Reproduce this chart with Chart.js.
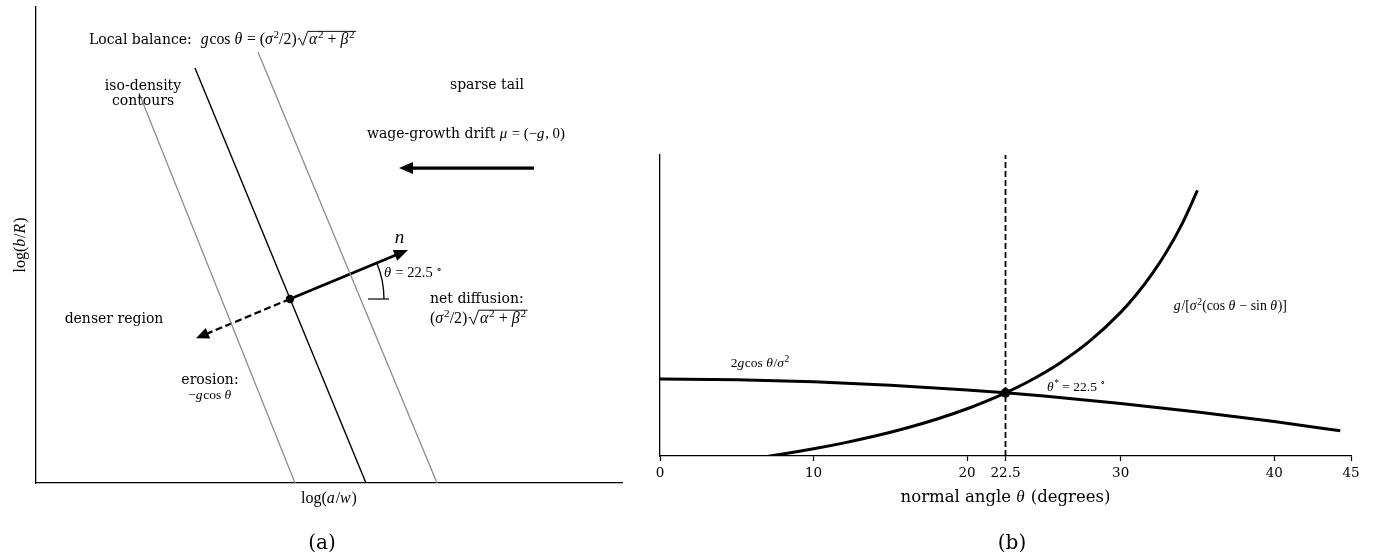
<!DOCTYPE html>
<html>
<head>
<meta charset="utf-8">
<title>Iso-density contours and the normal-angle balance</title>
<script src="https://cdn.jsdelivr.net/npm/chart.js@4.4.1/dist/chart.umd.min.js"></script>
<style>
  html, body { margin: 0; padding: 0; background: #fff; }
  #wrap { position: relative; width: 1374px; height: 558px; overflow: hidden; background: #fff; }
  canvas { position: absolute; top: 0; }
  #panelA { left: 0; width: 640px; height: 558px; }
  #panelB { left: 640px; width: 734px; height: 558px; }
</style>
</head>
<body>
<div id="wrap">
  <canvas id="panelA" width="640" height="558"></canvas>
  <canvas id="panelB" width="734" height="558"></canvas>
</div>
<script>
// ---------- panel (a): schematic in (log(a/w), log(b/R)) units ----------
const contourLeft  = [[1.758, 6.655], [4.420, 0]];
const balanceLine  = [[2.713, 7.082], [5.631, 0]];
const contourRight = [[3.788, 7.355], [6.843, 0]];
const footPoint    = [[4.334, 3.140]];
const normalArrow  = [[4.334, 3.140], [6.348, 3.976]];
const erosionArrow = [[4.334, 3.140], [2.730, 2.470]];
const driftArrow   = [[8.498, 5.375], [6.195, 5.375]];
const angleBase    = [[5.666, 3.140], [6.024, 3.140]];
const normalAngleDeg = 22.5;

// ---------- panel (b): both sides of the balance vs. normal angle ----------
const thetaCos   = [0, 5, 10, 15, 20, 22.5, 25, 30, 35, 40, 44.3];
const cosCurve   = [2.000, 1.9924, 1.9696, 1.9319, 1.8794, 1.8478, 1.8126, 1.7321, 1.6383, 1.5321, 1.4314];
const thetaDrift = [0, 2, 4, 6, 8, 10, 12, 14, 16, 18, 20, 22, 22.5, 24, 26, 28, 30, 31, 32, 33, 34, 35];
const driftCurve = [1.000, 1.0368, 1.0778, 1.1236, 1.1750, 1.2328, 1.2983, 1.3729, 1.4585, 1.5575, 1.6732,
                    1.8097, 1.8478, 1.9731, 2.1719, 2.4185, 2.7320, 2.9229, 3.1434, 3.4010, 3.7058, 4.0722];
const thetaStar     = 22.5;
const crossingValue = 1.8478;
const xTickValues   = [0, 10, 20, 22.5, 30, 40, 45];

// ---------- rich text (text + math-style runs) ----------
const TEXT_FAMILY = '"DejaVu Serif"';
const MATH_FAMILY = '"Liberation Serif"';
function fontFor(style, size, msize) {
  if (style === 'T') return `${size}px ${TEXT_FAMILY}`;
  if (style === 'i') return `italic ${msize}px ${MATH_FAMILY}`;
  if (style === 's') return `${(msize * 0.7).toFixed(2)}px ${MATH_FAMILY}`;
  return `${msize}px ${MATH_FAMILY}`;
}
function richWidth(ctx, segs, size, msize) {
  let w = 0;
  for (const seg of segs) {
    if (seg.sqrt) { w += msize * 0.78 + richWidth(ctx, seg.sqrt, size, msize) + msize * 0.1; continue; }
    ctx.font = fontFor(seg[1], size, msize);
    w += ctx.measureText(seg[0]).width + (seg[1] === 'i' ? msize * 0.05 : 0);
  }
  return w;
}
function richDraw(ctx, segs, size, msize, x, y) {
  let cx = x;
  for (const seg of segs) {
    if (seg.sqrt) {
      const inner = richWidth(ctx, seg.sqrt, size, msize);
      const rw = msize * 0.78;
      const top = y - msize * 0.82;
      ctx.save();
      ctx.lineWidth = Math.max(0.9, msize * 0.06);
      ctx.beginPath();
      ctx.moveTo(cx + msize * 0.06, y - msize * 0.32);
      ctx.lineTo(cx + msize * 0.18, y - msize * 0.38);
      ctx.lineTo(cx + msize * 0.38, y + msize * 0.06);
      ctx.lineTo(cx + msize * 0.70, top);
      ctx.lineTo(cx + rw + inner + msize * 0.1, top);
      ctx.stroke();
      ctx.restore();
      richDraw(ctx, seg.sqrt, size, msize, cx + rw, y);
      cx += rw + inner + msize * 0.1;
      continue;
    }
    const [txt, st] = seg;
    ctx.font = fontFor(st, size, msize);
    ctx.fillText(txt, cx, st === 's' ? y - msize * 0.38 : y);
    cx += ctx.measureText(txt).width + (st === 'i' ? msize * 0.05 : 0);
  }
}
function labelPlugin(id, items) {
  return {
    id,
    afterDraw(chart) {
      const ctx = chart.ctx, xs = chart.scales.x, ys = chart.scales.y, ca = chart.chartArea;
      const frame = {
        x: v => xs.getPixelForValue(v), y: v => ys.getPixelForValue(v),
        left: ca.left, right: ca.right, top: ca.top, bottom: ca.bottom,
        midX: (ca.left + ca.right) / 2, midY: (ca.top + ca.bottom) / 2
      };
      ctx.save();
      ctx.fillStyle = '#000';
      ctx.strokeStyle = '#000';
      ctx.textBaseline = 'alphabetic';
      ctx.textAlign = 'left';
      for (const it of items) {
        const [px, py] = it.at(frame);
        const size = it.size, msize = it.msize || it.size * 1.07;
        const w = richWidth(ctx, it.segs, size, msize);
        const off = it.align === 'center' ? -w / 2 : 0;
        if (it.rot) {
          ctx.save();
          ctx.translate(px, py);
          ctx.rotate(it.rot * Math.PI / 180);
          richDraw(ctx, it.segs, size, msize, off, 0);
          ctx.restore();
        } else {
          richDraw(ctx, it.segs, size, msize, px + off, py);
        }
      }
      ctx.restore();
    }
  };
}

// ---------- arrow heads on the last segment of flagged datasets ----------
const HEAD_LEN = 14, HEAD_HALF = 5.8;
function headGeom(meta) {
  const pts = meta.data;
  const a = pts[pts.length - 2], b = pts[pts.length - 1];
  const dx = b.x - a.x, dy = b.y - a.y, len = Math.hypot(dx, dy) || 1;
  const ux = dx / len, uy = dy / len;
  return { tx: b.x, ty: b.y, ux, uy, nx: -uy, ny: ux };
}
const arrowPlugin = {
  id: 'arrowHeads',
  beforeDatasetDraw(chart, args) {
    const ds = chart.data.datasets[args.index];
    if (!ds.arrowHead) return;
    const g = headGeom(args.meta), ctx = chart.ctx;
    const bx = g.tx - g.ux * (HEAD_LEN - 3), by = g.ty - g.uy * (HEAD_LEN - 3);
    const fx = g.tx + g.ux * 6, fy = g.ty + g.uy * 6, W = HEAD_HALF + 3;
    ctx.save();
    ctx.beginPath();
    ctx.rect(0, 0, chart.width, chart.height);
    ctx.moveTo(bx + g.nx * W, by + g.ny * W);
    ctx.lineTo(fx + g.nx * W, fy + g.ny * W);
    ctx.lineTo(fx - g.nx * W, fy - g.ny * W);
    ctx.lineTo(bx - g.nx * W, by - g.ny * W);
    ctx.closePath();
    ctx.clip('evenodd');
  },
  afterDatasetDraw(chart, args) {
    const ds = chart.data.datasets[args.index];
    if (!ds.arrowHead) return;
    const ctx = chart.ctx;
    ctx.restore();
    const g = headGeom(args.meta);
    const L = ds.headLen || HEAD_LEN, H = ds.headHalf || HEAD_HALF;
    const bx = g.tx - g.ux * L, by = g.ty - g.uy * L;
    ctx.save();
    ctx.fillStyle = ds.borderColor;
    ctx.beginPath();
    ctx.moveTo(g.tx, g.ty);
    ctx.lineTo(bx + g.nx * H, by + g.ny * H);
    ctx.lineTo(bx - g.nx * H, by - g.ny * H);
    ctx.closePath();
    ctx.fill();
    ctx.restore();
  }
};

// ---------- angle arc between the horizontal and the normal ----------
const ARC_RADIUS = 1.604;
const angleArcPlugin = {
  id: 'angleArc',
  afterDatasetsDraw(chart) {
    const xs = chart.scales.x, ys = chart.scales.y, ctx = chart.ctx;
    const cx = xs.getPixelForValue(footPoint[0][0]);
    const cy = ys.getPixelForValue(footPoint[0][1]);
    const r = xs.getPixelForValue(footPoint[0][0] + ARC_RADIUS) - cx;
    ctx.save();
    ctx.strokeStyle = '#000';
    ctx.lineWidth = 1.3;
    ctx.beginPath();
    ctx.arc(cx, cy, r, -normalAngleDeg * Math.PI / 180, 0);
    ctx.stroke();
    ctx.restore();
  }
};

// ---------- shared helpers ----------
const toXY = pts => pts.map(([x, y]) => ({ x, y }));
const pairXY = (xs, ys) => xs.map((x, i) => ({ x, y: ys[i] }));
function segment(pts, color, width, extra) {
  return Object.assign({
    data: toXY(pts), showLine: true, borderColor: color, backgroundColor: color,
    borderWidth: width, pointRadius: 0, fill: false, tension: 0, borderCapStyle: 'butt'
  }, extra || {});
}
const quiet = { legend: { display: false }, tooltip: { enabled: false } };
const spine = { display: true, color: '#000', width: 1.3 };

// ---------- panel (a) ----------
const eq = (t, s) => [t, s];
const sqrtAB = { sqrt: [eq('α', 'i'), eq('2', 's'), eq(' + ', 'u'), eq('β', 'i'), eq('2', 's')] };
const labelsA = [
  { segs: [eq('Local balance:  ', 'T'), eq('g', 'i'), eq('cos ', 'u'), eq('θ', 'i'), eq(' = ', 'u'), eq('(', 'u'),
           eq('σ', 'i'), eq('2', 's'), eq('/2)', 'u'), sqrtAB],
    size: 14, msize: 15.8, align: 'left', at: f => [f.x(0.904), f.y(7.486)] },
  { segs: [eq('iso-density', 'T')], size: 14, align: 'center', at: f => [f.x(1.826), f.y(6.715)] },
  { segs: [eq('contours', 'T')], size: 14, align: 'center', at: f => [f.x(1.826), f.y(6.451)] },
  { segs: [eq('sparse tail', 'T')], size: 14, align: 'center', at: f => [f.x(7.696), f.y(6.718)] },
  { segs: [eq('wage-growth drift ', 'T'), eq('μ', 'i'), eq(' = ', 'u'), eq('(−', 'u'), eq('g', 'i'), eq(', 0)', 'u')],
    size: 14, msize: 14.8, align: 'left', at: f => [f.x(5.648), f.y(5.882)] },
  { segs: [eq('n', 'i')], size: 18, msize: 19, align: 'center', at: f => [f.x(6.212), f.y(4.090)] },
  { segs: [eq('θ', 'i'), eq(' = ', 'u'), eq('22.5 ', 'u'), eq('∘', 's')],
    size: 14, msize: 14.5, align: 'left', at: f => [f.x(5.939), f.y(3.510)] },
  { segs: [eq('net diffusion:', 'T')], size: 14, align: 'left', at: f => [f.x(6.724), f.y(3.077)] },
  { segs: [eq('(', 'u'), eq('σ', 'i'), eq('2', 's'), eq('/2)', 'u'), sqrtAB],
    size: 14, msize: 16, align: 'left', at: f => [f.x(6.724), f.y(2.725)] },
  { segs: [eq('denser region', 'T')], size: 14, align: 'center', at: f => [f.x(1.331), f.y(2.725)] },
  { segs: [eq('erosion:', 'T')], size: 14, align: 'center', at: f => [f.x(2.969), f.y(1.689)] },
  { segs: [eq('−', 'u'), eq('g', 'i'), eq('cos ', 'u'), eq('θ', 'i')],
    size: 12.5, msize: 13.5, align: 'center', at: f => [f.x(2.969), f.y(1.428)] },
  { segs: [eq('log(', 'u'), eq('a', 'i'), eq('/', 'u'), eq('w', 'i'), eq(')', 'u')],
    size: 15, msize: 16, align: 'center', at: f => [f.midX, f.bottom + 20] },
  { segs: [eq('log(', 'u'), eq('b', 'i'), eq('/', 'u'), eq('R', 'i'), eq(')', 'u')],
    size: 15, msize: 16, align: 'center', rot: -90, at: f => [f.left - 11, f.midY] },
  { segs: [eq('(a)', 'T')], size: 20, align: 'center', at: () => [322, 549] }
];

new Chart(document.getElementById('panelA'), {
  type: 'scatter',
  data: {
    datasets: [
      segment(contourLeft, '#8c8c8c', 1.3),
      segment(contourRight, '#8c8c8c', 1.3),
      segment(balanceLine, '#000', 1.4),
      segment(angleBase, '#000', 1.2),
      segment(normalArrow, '#000', 2.8, { arrowHead: true }),
      segment(erosionArrow, '#000', 2.2, { arrowHead: true, borderDash: [7, 3.5], headLen: 13 }),
      segment(driftArrow, '#000', 3.2, { arrowHead: true, headLen: 14, headHalf: 6 }),
      { data: toXY(footPoint), showLine: false, pointRadius: 4.2, pointBackgroundColor: '#000',
        pointBorderWidth: 0, pointBorderColor: '#000' }
    ]
  },
  options: {
    responsive: false, animation: false, events: [],
    layout: { padding: { left: 36, right: 18, top: 7, bottom: 75 } },
    plugins: quiet,
    scales: {
      x: { type: 'linear', min: 0, max: 10, ticks: { display: false }, grid: { display: false },
           border: spine, afterFit: s => { s.height = 0; s.paddingLeft = 0; s.paddingRight = 0; } },
      y: { type: 'linear', min: 0, max: 8.123, ticks: { display: false }, grid: { display: false },
           border: spine, afterFit: s => { s.width = 0; s.paddingTop = 0; s.paddingBottom = 0; } }
    }
  },
  plugins: [arrowPlugin, angleArcPlugin, labelPlugin('labelsA', labelsA)]
});

// ---------- panel (b) ----------
const Y_MIN = 1.154, Y_MAX = 4.462;
const labelsB = [
  { segs: [eq('2', 'u'), eq('g', 'i'), eq('cos ', 'u'), eq('θ', 'i'), eq('/', 'u'), eq('σ', 'i'), eq('2', 's')],
    size: 13, msize: 13.5, align: 'center', at: f => [f.x(6.51), f.y(2.135)] },
  { segs: [eq('θ', 'i'), eq('*', 's'), eq(' = 22.5 ', 'u'), eq('∘', 's')],
    size: 13, msize: 13.5, align: 'left', at: f => [f.x(25.2), f.y(1.871)] },
  { segs: [eq('g', 'i'), eq('/[', 'u'), eq('σ', 'i'), eq('2', 's'), eq('(cos ', 'u'), eq('θ', 'i'),
           eq(' − sin ', 'u'), eq('θ', 'i'), eq(')]', 'u')],
    size: 13, msize: 13.8, align: 'left', at: f => [f.x(33.46), f.y(2.758)] },
  { segs: [eq('normal angle ', 'T'), eq('θ', 'i'), eq(' (degrees)', 'T')],
    size: 16.5, msize: 17, align: 'center', at: f => [f.midX, f.bottom + 46] },
  { segs: [eq('(b)', 'T')], size: 20, align: 'center', at: () => [372, 549] }
];

new Chart(document.getElementById('panelB'), {
  type: 'scatter',
  data: {
    datasets: [
      { data: [{ x: thetaStar, y: Y_MIN }, { x: thetaStar, y: Y_MAX }], showLine: true, borderColor: '#000',
        borderWidth: 1.8, borderDash: [6, 3], pointRadius: 0, tension: 0 },
      { data: pairXY(thetaCos, cosCurve), showLine: true, borderColor: '#000', borderWidth: 3,
        pointRadius: 0, cubicInterpolationMode: 'monotone' },
      { data: pairXY(thetaDrift, driftCurve), showLine: true, borderColor: '#000', borderWidth: 3,
        pointRadius: 0, cubicInterpolationMode: 'monotone' },
      { data: [{ x: thetaStar, y: crossingValue }], showLine: false, pointRadius: 4.8,
        pointBackgroundColor: '#000', pointBorderWidth: 0, pointBorderColor: '#000' }
    ]
  },
  options: {
    responsive: false, animation: false, events: [],
    layout: { padding: { left: 20, right: 23, top: 155, bottom: 72 } },
    plugins: quiet,
    scales: {
      x: {
        type: 'linear', min: 0, max: 45,
        afterBuildTicks: s => { s.ticks = xTickValues.map(v => ({ value: v })); },
        ticks: { autoSkip: false, maxRotation: 0, padding: 4, color: '#000',
                 font: { family: 'DejaVu Serif', size: 13.5 }, callback: v => String(v) },
        grid: { display: true, drawOnChartArea: false, drawTicks: true, tickLength: 5,
                tickWidth: 1.2, tickColor: '#000', color: '#000' },
        border: spine,
        afterFit: s => { s.height = 30; s.paddingLeft = 0; s.paddingRight = 0; }
      },
      y: { type: 'linear', min: Y_MIN, max: Y_MAX, ticks: { display: false }, grid: { display: false },
           border: spine, afterFit: s => { s.width = 0; s.paddingTop = 0; s.paddingBottom = 0; } }
    }
  },
  plugins: [labelPlugin('labelsB', labelsB)]
});
</script>
</body>
</html>
